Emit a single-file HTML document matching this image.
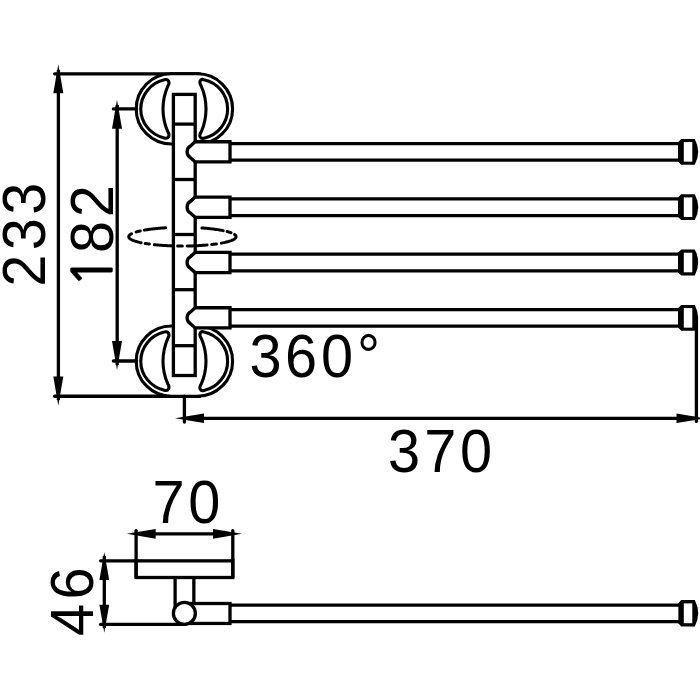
<!DOCTYPE html>
<html lang="en"><head><meta charset="utf-8"><title>Towel rail dimensions</title>
<style>
html,body{margin:0;padding:0;background:#fff;}
body{width:700px;height:700px;overflow:hidden;}
svg{display:block;font-family:"Liberation Sans",sans-serif;}
</style></head><body>
<svg width="700" height="700" viewBox="0 0 700 700" fill="none" stroke="#000">
<rect x="0" y="0" width="700" height="700" fill="#fff" stroke="none"/>
<line x1="54.7" y1="73.8" x2="200" y2="73.8" stroke-width="3.3" stroke-linecap="round"/>
<line x1="54.7" y1="396.25" x2="200" y2="396.25" stroke-width="3.3" stroke-linecap="round"/>
<path d="M 171.30 73.80 H 197.50 A 35.1 35.1 0 0 1 197.50 144.00 H 171.30 A 35.1 35.1 0 0 1 171.30 73.80 Z" fill="#fff" stroke-width="3.1"/>
<path d="M 164.20 79.85 A 30.7 29.9 0 0 0 164.20 137.95 C 168.40 139.25 170.40 135.50 167.80 131.70 C 165.20 125.70 163.00 118.40 163.00 108.90 C 163.00 99.40 165.20 92.10 167.80 86.10 C 170.40 82.30 168.40 78.55 164.20 79.85 Z" fill="#fff" stroke-width="3.1" stroke-linejoin="round"/>
<path d="M 204.00 79.65 A 29.8 29.9 0 0 1 204.00 138.15 C 199.80 139.45 198.70 135.50 201.30 131.70 C 203.90 125.70 206.00 118.40 206.00 108.90 C 206.00 99.40 203.90 92.10 201.30 86.10 C 198.70 82.30 199.80 78.35 204.00 79.65 Z" fill="#fff" stroke-width="3.1" stroke-linejoin="round"/>
<path d="M 171.30 326.05 H 197.50 A 35.1 35.1 0 0 1 197.50 396.25 H 171.30 A 35.1 35.1 0 0 1 171.30 326.05 Z" fill="#fff" stroke-width="3.1"/>
<path d="M 164.20 332.10 A 30.7 29.9 0 0 0 164.20 390.20 C 168.40 391.50 170.40 387.75 167.80 383.95 C 165.20 377.95 163.00 370.65 163.00 361.15 C 163.00 351.65 165.20 344.35 167.80 338.35 C 170.40 334.55 168.40 330.80 164.20 332.10 Z" fill="#fff" stroke-width="3.1" stroke-linejoin="round"/>
<path d="M 204.00 331.90 A 29.8 29.9 0 0 1 204.00 390.40 C 199.80 391.70 198.70 387.75 201.30 383.95 C 203.90 377.95 206.00 370.65 206.00 361.15 C 206.00 351.65 203.90 344.35 201.30 338.35 C 198.70 334.55 199.80 330.60 204.00 331.90 Z" fill="#fff" stroke-width="3.1" stroke-linejoin="round"/>
<rect x="173.4" y="94.4" width="21.80" height="281.1" fill="#fff" stroke-width="3.3"/>
<line x1="173.4" y1="124.1" x2="195.2" y2="124.1" stroke-width="3.3" stroke-linecap="butt"/>
<line x1="173.4" y1="179.5" x2="195.2" y2="179.5" stroke-width="3.3" stroke-linecap="butt"/>
<line x1="173.4" y1="234.5" x2="195.2" y2="234.5" stroke-width="3.3" stroke-linecap="butt"/>
<line x1="173.4" y1="289.7" x2="195.2" y2="289.7" stroke-width="3.3" stroke-linecap="butt"/>
<line x1="173.4" y1="345.7" x2="195.2" y2="345.7" stroke-width="3.3" stroke-linecap="butt"/>
<path d="M 230 141.75 H 195.2 L 190.5 145.95 A 6.8 6.8 0 0 0 190.5 157.75 L 195.2 161.95 H 230 Z" fill="#fff" stroke-width="3.3" stroke-linejoin="miter"/>
<line x1="230" y1="143.55" x2="679" y2="143.55" stroke-width="3.3" stroke-linecap="butt"/>
<line x1="230" y1="160.2" x2="679" y2="160.2" stroke-width="3.3" stroke-linecap="butt"/>
<path d="M 681.2 138.95 H 694.8 Q 701.6 151.85 694.8 164.75 H 681.2 L 678.0 161.55 V 142.15 Z" fill="#000" stroke="none"/>
<rect x="683.8" y="142.05" width="8.5" height="19.6" fill="#fff" stroke="none"/>
<path d="M 230 197.1 H 195.2 L 190.5 201.30 A 6.8 6.8 0 0 0 190.5 213.1 L 195.2 217.30 H 230 Z" fill="#fff" stroke-width="3.3" stroke-linejoin="miter"/>
<line x1="230" y1="198.90" x2="679" y2="198.90" stroke-width="3.3" stroke-linecap="butt"/>
<line x1="230" y1="215.55" x2="679" y2="215.55" stroke-width="3.3" stroke-linecap="butt"/>
<path d="M 681.2 194.30 H 694.8 Q 701.6 207.2 694.8 220.1 H 681.2 L 678.0 216.9 V 197.50 Z" fill="#000" stroke="none"/>
<rect x="683.8" y="197.40" width="8.5" height="19.6" fill="#fff" stroke="none"/>
<path d="M 230 252.4 H 195.2 L 190.5 256.6 A 6.8 6.8 0 0 0 190.5 268.4 L 195.2 272.6 H 230 Z" fill="#fff" stroke-width="3.3" stroke-linejoin="miter"/>
<line x1="230" y1="254.2" x2="679" y2="254.2" stroke-width="3.3" stroke-linecap="butt"/>
<line x1="230" y1="270.85" x2="679" y2="270.85" stroke-width="3.3" stroke-linecap="butt"/>
<path d="M 681.2 249.6 H 694.8 Q 701.6 262.5 694.8 275.4 H 681.2 L 678.0 272.2 V 252.80 Z" fill="#000" stroke="none"/>
<rect x="683.8" y="252.7" width="8.5" height="19.6" fill="#fff" stroke="none"/>
<path d="M 230 307.75 H 195.2 L 190.5 311.95 A 6.8 6.8 0 0 0 190.5 323.75 L 195.2 327.95 H 230 Z" fill="#fff" stroke-width="3.3" stroke-linejoin="miter"/>
<line x1="230" y1="309.55" x2="679" y2="309.55" stroke-width="3.3" stroke-linecap="butt"/>
<line x1="230" y1="326.20" x2="679" y2="326.20" stroke-width="3.3" stroke-linecap="butt"/>
<path d="M 681.2 304.95 H 694.8 Q 701.6 317.85 694.8 330.75 H 681.2 L 678.0 327.55 V 308.15 Z" fill="#000" stroke="none"/>
<rect x="683.8" y="308.05" width="8.5" height="19.6" fill="#fff" stroke="none"/>
<path d="M 144.34 230.11 L 145.04 229.99 L 145.74 229.87 L 146.45 229.76 L 147.18 229.65 L 147.92 229.54 L 148.67 229.43 L 149.43 229.32 L 150.20 229.22 L 150.99 229.12 L 151.78 229.02 L 152.58 228.93 L 153.39 228.83 L 154.22 228.74 L 155.05 228.66 L 155.89 228.57 L 156.74 228.49 L 157.59 228.41 L 158.46 228.33 L 159.33 228.26 L 160.21 228.19 L 161.10 228.12 L 162.00 228.05 L 162.90 227.99 L 163.81 227.93 L 164.72 227.87 L 165.64 227.82" fill="none" stroke-width="3.0" stroke-linecap="round" stroke-linejoin="round"/>
<path d="M 136.13 231.97 L 136.33 231.91 L 136.53 231.85 L 136.73 231.79 L 136.93 231.74 L 137.14 231.68 L 137.35 231.62 L 137.56 231.57 L 137.77 231.51 L 137.99 231.45 L 138.21 231.40 L 138.43 231.34 L 138.65 231.29 L 138.88 231.23 L 139.10 231.18 L 139.33 231.12 L 139.57 231.07 L 139.80 231.02 L 140.04 230.96 L 140.27 230.91" fill="none" stroke-width="3.0" stroke-linecap="round" stroke-linejoin="round"/>
<path d="M 141.17 242.68 L 139.91 242.41 L 138.70 242.12 L 137.56 241.83 L 136.48 241.53 L 135.46 241.23 L 134.52 240.92 L 133.64 240.60 L 132.83 240.27 L 132.09 239.95 L 131.42 239.61 L 130.83 239.28 L 130.30 238.93 L 129.86 238.59 L 129.49 238.24 L 129.19 237.89 L 128.97 237.54 L 128.82 237.19 L 128.76 236.84 L 128.76 236.48 L 128.85 236.13 L 129.01 235.78 L 129.25 235.43 L 129.56 235.08 L 129.95 234.73 L 130.41 234.39 L 130.95 234.05 L 131.56 233.71" fill="none" stroke-width="3.0" stroke-linecap="round" stroke-linejoin="round"/>
<path d="M 149.35 244.07 L 149.13 244.03 L 148.90 244.00 L 148.68 243.97 L 148.46 243.94 L 148.23 243.91 L 148.01 243.88 L 147.79 243.84 L 147.57 243.81 L 147.35 243.78 L 147.14 243.75 L 146.92 243.71 L 146.70 243.68 L 146.49 243.65 L 146.28 243.61 L 146.06 243.58 L 145.85 243.55 L 145.64 243.51 L 145.43 243.48 L 145.23 243.44" fill="none" stroke-width="3.0" stroke-linecap="round" stroke-linejoin="round"/>
<path d="M 172.97 245.90 L 172.21 245.88 L 171.46 245.85 L 170.70 245.83 L 169.95 245.79 L 169.20 245.76 L 168.45 245.73 L 167.71 245.69 L 166.96 245.65 L 166.23 245.61 L 165.49 245.57 L 164.76 245.53 L 164.03 245.48 L 163.31 245.44 L 162.59 245.39 L 161.87 245.34 L 161.16 245.29 L 160.45 245.23 L 159.75 245.18 L 159.05 245.12 L 158.36 245.06 L 157.67 245.00 L 156.98 244.93 L 156.31 244.87 L 155.63 244.80 L 154.97 244.74 L 154.31 244.67" fill="none" stroke-width="3.0" stroke-linecap="round" stroke-linejoin="round"/>
<path d="M 182.33 246.05 L 182.10 246.05 L 181.86 246.05 L 181.63 246.05 L 181.40 246.05 L 181.16 246.05 L 180.93 246.05 L 180.70 246.05 L 180.46 246.04 L 180.23 246.04 L 179.99 246.04 L 179.76 246.04 L 179.53 246.04 L 179.29 246.03 L 179.06 246.03 L 178.83 246.03 L 178.59 246.03 L 178.36 246.02 L 178.13 246.02 L 177.90 246.02 L 177.66 246.01" fill="none" stroke-width="3.0" stroke-linecap="round" stroke-linejoin="round"/>
<path d="M 207.08 245.00 L 206.36 245.07 L 205.64 245.13 L 204.91 245.19 L 204.18 245.24 L 203.44 245.30 L 202.70 245.36 L 201.95 245.41 L 201.20 245.46 L 200.44 245.51 L 199.68 245.55 L 198.92 245.60 L 198.15 245.64 L 197.38 245.68 L 196.60 245.72 L 195.83 245.75 L 195.04 245.79 L 194.26 245.82 L 193.47 245.85 L 192.68 245.88 L 191.89 245.90 L 191.10 245.93 L 190.30 245.95 L 189.51 245.97 L 188.71 245.99 L 187.91 246.00 L 187.11 246.01" fill="none" stroke-width="3.0" stroke-linecap="round" stroke-linejoin="round"/>
<path d="M 216.39 243.93 L 216.17 243.97 L 215.94 244.00 L 215.72 244.03 L 215.49 244.06 L 215.26 244.09 L 215.03 244.12 L 214.80 244.15 L 214.57 244.18 L 214.34 244.21 L 214.10 244.24 L 213.87 244.27 L 213.63 244.30 L 213.40 244.33 L 213.16 244.36 L 212.92 244.39 L 212.69 244.42 L 212.45 244.45 L 212.21 244.47 L 211.96 244.50 L 211.72 244.53" fill="none" stroke-width="3.0" stroke-linecap="round" stroke-linejoin="round"/>
<path d="M 234.56 234.51 L 234.99 234.85 L 235.34 235.19 L 235.63 235.53 L 235.84 235.87 L 235.98 236.21 L 236.04 236.56 L 236.04 236.90 L 235.96 237.25 L 235.81 237.59 L 235.58 237.93 L 235.29 238.27 L 234.92 238.61 L 234.48 238.94 L 233.97 239.28 L 233.39 239.60 L 232.75 239.93 L 232.03 240.25 L 231.25 240.57 L 230.40 240.88 L 229.49 241.18 L 228.51 241.48 L 227.47 241.77 L 226.37 242.06 L 225.21 242.34 L 223.99 242.61 L 222.71 242.87 L 221.38 243.12" fill="none" stroke-width="3.0" stroke-linecap="round" stroke-linejoin="round"/>
<path d="M 227.17 231.55 L 227.40 231.61 L 227.62 231.67 L 227.84 231.73 L 228.06 231.79 L 228.28 231.85 L 228.49 231.91 L 228.70 231.98 L 228.91 232.04 L 229.11 232.10 L 229.31 232.16 L 229.51 232.23 L 229.71 232.29 L 229.90 232.35 L 230.09 232.42 L 230.28 232.48 L 230.46 232.55 L 230.65 232.61 L 230.83 232.68 L 231.00 232.74" fill="none" stroke-width="3.0" stroke-linecap="round" stroke-linejoin="round"/>
<path d="M 201.91 227.99 L 202.85 228.06 L 203.78 228.12 L 204.71 228.20 L 205.63 228.27 L 206.54 228.35 L 207.45 228.43 L 208.34 228.52 L 209.22 228.60 L 210.10 228.69 L 210.96 228.79 L 211.82 228.88 L 212.66 228.98 L 213.50 229.08 L 214.32 229.18 L 215.13 229.29 L 215.93 229.40 L 216.71 229.51 L 217.49 229.63 L 218.25 229.74 L 219.00 229.86 L 219.74 229.99 L 220.46 230.11 L 221.17 230.24 L 221.86 230.37 L 222.54 230.50 L 223.21 230.63" fill="none" stroke-width="3.0" stroke-linecap="round" stroke-linejoin="round"/>
<line x1="58.4" y1="70" x2="58.4" y2="400" stroke-width="3.3" stroke-linecap="butt"/>
<path d="M 58.3 64.3 L 53.3 93.3 L 63.3 93.3 Z" fill="#000" stroke="none"/>
<path d="M 58.3 405.6 L 53.3 376.6 L 63.3 376.6 Z" fill="#000" stroke="none"/>
<line x1="117.2" y1="105" x2="117.2" y2="365" stroke-width="3.3" stroke-linecap="butt"/>
<path d="M 117.0 99.8 L 112.0 128.8 L 122.0 128.8 Z" fill="#000" stroke="none"/>
<path d="M 117.0 370.0 L 112.0 341.0 L 122.0 341.0 Z" fill="#000" stroke="none"/>
<line x1="113.4" y1="108.9" x2="136.6" y2="108.9" stroke-width="3.3" stroke-linecap="round"/>
<line x1="113.4" y1="361.0" x2="136.6" y2="361.0" stroke-width="3.3" stroke-linecap="round"/>
<line x1="184.4" y1="396.1" x2="184.4" y2="422.0" stroke-width="3.3" stroke-linecap="round"/>
<line x1="696.4" y1="318" x2="696.4" y2="421.4" stroke-width="3.3" stroke-linecap="round"/>
<line x1="190" y1="418.3" x2="695" y2="418.3" stroke-width="3.3" stroke-linecap="butt"/>
<path d="M 175 418.3 L 204 413.5 L 204 423.1 Z" fill="#000" stroke="none"/>
<path d="M 705.5 418.3 L 676.5 413.5 L 676.5 423.1 Z" fill="#000" stroke="none"/>
<rect x="136.1" y="560.85" width="96.70" height="16.65" fill="#fff" stroke-width="3.3"/>
<line x1="136.1" y1="530.6" x2="136.1" y2="577" stroke-width="3.3" stroke-linecap="round"/>
<line x1="232.8" y1="530.6" x2="232.8" y2="577" stroke-width="3.3" stroke-linecap="round"/>
<line x1="140" y1="533.85" x2="228" y2="533.85" stroke-width="3.3" stroke-linecap="butt"/>
<path d="M 126.8 533.85 L 155.7 528.9 L 155.7 538.80 Z" fill="#000" stroke="none"/>
<path d="M 241.95 533.85 L 213.05 528.9 L 213.05 538.80 Z" fill="#000" stroke="none"/>
<line x1="175.1" y1="577.5" x2="175.1" y2="610" stroke-width="3.3" stroke-linecap="butt"/>
<line x1="193.85" y1="577.5" x2="193.85" y2="606" stroke-width="3.3" stroke-linecap="butt"/>
<line x1="100.6" y1="560.85" x2="136" y2="560.85" stroke-width="3.3" stroke-linecap="round"/>
<line x1="100.6" y1="624.4" x2="184" y2="624.4" stroke-width="3.3" stroke-linecap="round"/>
<line x1="104.3" y1="556" x2="104.3" y2="628" stroke-width="3.3" stroke-linecap="butt"/>
<path d="M 104.3 551.9 L 99.40 579.9 L 109.2 579.9 Z" fill="#000" stroke="none"/>
<path d="M 104.3 632.7 L 99.40 604.7 L 109.2 604.7 Z" fill="#000" stroke="none"/>
<rect x="184" y="603.5" width="46.0" height="19.95" fill="#fff" stroke-width="3.3"/>
<line x1="230" y1="605.1" x2="679" y2="605.1" stroke-width="3.3" stroke-linecap="butt"/>
<line x1="230" y1="621.65" x2="679" y2="621.65" stroke-width="3.3" stroke-linecap="butt"/>
<path d="M 681.2 600.1 H 694.8 Q 701.6 613.3 694.8 626.5 H 681.2 L 678.4 623.3 V 603.30 Z" fill="#000" stroke="none"/>
<rect x="683.8" y="603.4" width="8.5" height="19.8" fill="#fff" stroke="none"/>
<circle cx="184.37" cy="613.4" r="10.97" fill="#fff" stroke-width="3.3"/>
<text transform="translate(44.8 300.0) rotate(-90) scale(0.95 1)" font-size="60.8" stroke="none" fill="#000"><tspan x="13.89" y="0">2</tspan><tspan x="52.26" y="0">3</tspan><tspan x="89.83" y="0">3</tspan></text>
<text transform="translate(113.3 300.0) rotate(-90) scale(0.95 1)" font-size="60.8" stroke="none" fill="#000"><tspan x="13.16" y="-1.3" font-family="NanumGothic,'Liberation Sans',sans-serif" font-size="55.4" stroke="#000" stroke-width="1.5" stroke-linejoin="miter">1</tspan><tspan x="49.57" y="0">8</tspan><tspan x="87.18" y="0">2</tspan></text>
<text transform="translate(93.0 650.0) rotate(-90) scale(0.95 1)" font-size="60.8" stroke="none" fill="#000"><tspan x="14.77" y="0">4</tspan><tspan x="53.24" y="0">6</tspan></text>
<text transform="translate(240 377.4) scale(0.95 1)" font-size="60.8" stroke="none" fill="#000"><tspan x="9.87" y="0">3</tspan><tspan x="47.42" y="0">6</tspan><tspan x="85.40" y="0">0</tspan><tspan x="123.22" y="0">°</tspan></text>
<text transform="translate(380 471.5) scale(0.95 1)" font-size="60.8" stroke="none" fill="#000"><tspan x="8.30" y="0">3</tspan><tspan x="46.60" y="0">7</tspan><tspan x="84.14" y="0">0</tspan></text>
<text transform="translate(140 522.6) scale(0.95 1)" font-size="60.8" stroke="none" fill="#000"><tspan x="13.18" y="0">7</tspan><tspan x="50.88" y="0">0</tspan></text>
</svg>
</body></html>
